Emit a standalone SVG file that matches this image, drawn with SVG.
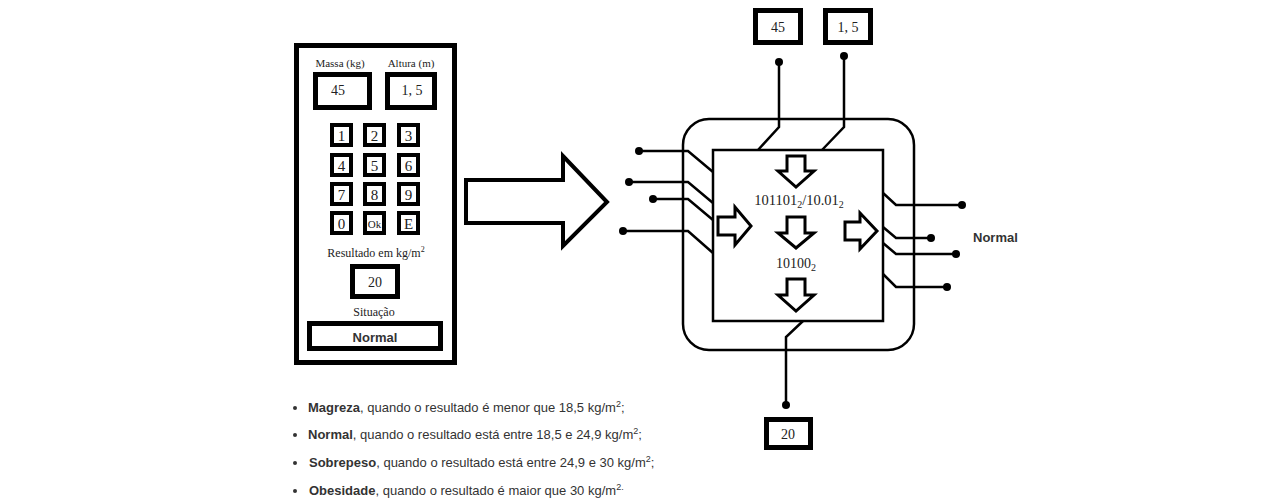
<svg xmlns="http://www.w3.org/2000/svg" width="1274" height="504" viewBox="0 0 1274 504">
<style>
.box{fill:#fff;stroke:#000;stroke-width:5}
.key{fill:#fff;stroke:#000;stroke-width:4}
.serif{font-family:"Liberation Serif","Times New Roman",serif;fill:#222}
.sans{font-family:"Liberation Sans",Arial,sans-serif;fill:#333}
.wire{fill:none;stroke:#000;stroke-width:2.5;stroke-linejoin:miter}
.dot{fill:#000}
.arrow{fill:#fff;stroke:#000;stroke-width:3;stroke-linejoin:miter}
</style>
<rect width="1274" height="504" fill="#fff"/>

<g id="panel">
  <rect x="296.5" y="45.5" width="158" height="317" class="box"/>
  <text x="340" y="67" class="serif" font-size="11" text-anchor="middle">Massa (kg)</text>
  <text x="411" y="67" class="serif" font-size="11" text-anchor="middle">Altura (m)</text>
  <rect x="315.5" y="74.5" width="54" height="33" class="box"/>
  <text x="338" y="95" class="serif" font-size="14" text-anchor="middle">45</text>
  <rect x="387.5" y="74.5" width="47" height="33" class="box"/>
  <text x="412" y="95" class="serif" font-size="14" text-anchor="middle">1, 5</text>
  <g id="keypad">
    <rect x="332" y="125" width="19" height="20" class="key"/>
    <rect x="365" y="125" width="19" height="20" class="key"/>
    <rect x="399" y="125" width="19" height="20" class="key"/>
    <rect x="332" y="155" width="19" height="20" class="key"/>
    <rect x="365" y="155" width="19" height="20" class="key"/>
    <rect x="399" y="155" width="19" height="20" class="key"/>
    <rect x="332" y="184" width="19" height="20" class="key"/>
    <rect x="365" y="184" width="19" height="20" class="key"/>
    <rect x="399" y="184" width="19" height="20" class="key"/>
    <rect x="332" y="213" width="19" height="20" class="key"/>
    <rect x="365" y="213" width="19" height="20" class="key"/>
    <rect x="399" y="213" width="19" height="20" class="key"/>
    <g class="serif" font-size="15" text-anchor="middle">
      <text x="341.5" y="141">1</text>
      <text x="374.5" y="141">2</text>
      <text x="408.5" y="141">3</text>
      <text x="341.5" y="171">4</text>
      <text x="374.5" y="171">5</text>
      <text x="408.5" y="171">6</text>
      <text x="341.5" y="200">7</text>
      <text x="374.5" y="200">8</text>
      <text x="408.5" y="200">9</text>
      <text x="341.5" y="229">0</text>
      <text x="374.5" y="228" font-size="11">Ok</text>
      <text x="408.5" y="229">E</text>
    </g>
  </g>
  <text x="376" y="257" class="serif" font-size="12" text-anchor="middle">Resultado em kg/m<tspan font-size="8" dy="-5">2</tspan></text>
  <rect x="352.5" y="266.5" width="45" height="30" class="box"/>
  <text x="375" y="287" class="serif" font-size="14" text-anchor="middle">20</text>
  <text x="374" y="316" class="serif" font-size="12" text-anchor="middle">Situação</text>
  <rect x="309.5" y="323.5" width="131" height="25" class="box"/>
  <text x="375" y="342" class="sans" font-size="13" font-weight="bold" text-anchor="middle">Normal</text>
</g>

<g id="big-arrow">
  <polygon points="466,180 563,180 563,156 607,202 563,246 563,223 466,223" fill="#fff" stroke="#000" stroke-width="4" stroke-linejoin="miter"/>
</g>

<g id="connectors">
  <path class="wire" d="M779,62 V127 L758,150"/>
  <path class="wire" d="M844,56 V127 L822,150"/>
  <path class="wire" d="M639,151 H688 L713,172"/>
  <path class="wire" d="M629,182 H688 L713,203"/>
  <path class="wire" d="M653,199 H688 L713,220"/>
  <path class="wire" d="M623,231 H688 L713,253"/>
  <path class="wire" d="M883,193 L896,205 H962"/>
  <path class="wire" d="M883,227 L896,238 H931"/>
  <path class="wire" d="M883,243 L896,254 H956"/>
  <path class="wire" d="M883,274 L896,287 H947"/>
  <path class="wire" d="M803,321 L786,337 V405"/>
  <circle cx="779" cy="62" r="4" class="dot"/>
  <circle cx="844" cy="56" r="4" class="dot"/>
  <circle cx="639" cy="151" r="4" class="dot"/>
  <circle cx="629" cy="182" r="4" class="dot"/>
  <circle cx="653" cy="199" r="4" class="dot"/>
  <circle cx="623" cy="231" r="4" class="dot"/>
  <circle cx="962" cy="205" r="4" class="dot"/>
  <circle cx="931" cy="238" r="4" class="dot"/>
  <circle cx="956" cy="254" r="4" class="dot"/>
  <circle cx="947" cy="287" r="4" class="dot"/>
  <circle cx="786" cy="405" r="4" class="dot"/>
</g>

<g id="chip">
  <rect x="683" y="119" width="231" height="231" rx="26" ry="26" fill="none" stroke="#000" stroke-width="2.5"/>
  <rect x="713" y="150" width="170" height="171" fill="#fff" stroke="#000" stroke-width="2.5"/>
  <polygon class="arrow" points="787,156 805,156 805,171 814,171 796,187 778,171 787,171"/>
  <polygon class="arrow" points="787,217 805,217 805,233 814,233 796,248 778,233 787,233"/>
  <polygon class="arrow" points="787,279 805,279 805,295 814,295 796,311 778,295 787,295"/>
  <polygon class="arrow" points="718,217 735,217 735,207 751,226 735,245 735,235 718,235"/>
  <polygon class="arrow" points="845,222 860,222 860,213 877,231 860,249 860,240 845,240"/>
  <text x="799" y="205" class="serif" font-size="14.5" text-anchor="middle">101101<tspan font-size="10" dy="3">2</tspan><tspan dy="-3">/10.01</tspan><tspan font-size="10" dy="3">2</tspan></text>
  <text x="796" y="268" class="serif" font-size="14" text-anchor="middle">10100<tspan font-size="10" dy="3">2</tspan></text>
</g>

<g id="in-mass">
  <rect x="755.5" y="10.5" width="45" height="32" class="box"/>
  <text x="778" y="32" class="serif" font-size="14" text-anchor="middle">45</text>
</g>
<g id="in-height">
  <rect x="825.5" y="10.5" width="45" height="32" class="box"/>
  <text x="848" y="32" class="serif" font-size="14" text-anchor="middle">1, 5</text>
</g>
<g id="out-result">
  <rect x="766.5" y="419.5" width="44" height="28" class="box"/>
  <text x="788" y="439" class="serif" font-size="14" text-anchor="middle">20</text>
</g>
<g id="out-status">
  <text x="973" y="242" class="sans" font-size="13" font-weight="bold">Normal</text>
</g>

<g id="legend" class="sans" font-size="13">
  <circle cx="295" cy="408" r="2" fill="#333"/>
  <circle cx="295" cy="435" r="2" fill="#333"/>
  <circle cx="295" cy="463" r="2" fill="#333"/>
  <circle cx="295" cy="491" r="2" fill="#333"/>
  <text x="308" y="412"><tspan font-weight="bold">Magreza</tspan>, quando o resultado é menor que 18,5 kg/m<tspan font-size="9" dy="-5">2</tspan><tspan dy="5">;</tspan></text>
  <text x="308" y="439"><tspan font-weight="bold">Normal</tspan>, quando o resultado está entre 18,5 e 24,9 kg/m<tspan font-size="9" dy="-5">2</tspan><tspan dy="5">;</tspan></text>
  <text x="309" y="467"><tspan font-weight="bold">Sobrepeso</tspan>, quando o resultado está entre 24,9 e 30 kg/m<tspan font-size="9" dy="-5">2</tspan><tspan dy="5">;</tspan></text>
  <text x="309" y="495"><tspan font-weight="bold">Obesidade</tspan>, quando o resultado é maior que 30 kg/m<tspan font-size="9" dy="-5">2</tspan><tspan font-size="9">.</tspan></text>
</g>
</svg>
